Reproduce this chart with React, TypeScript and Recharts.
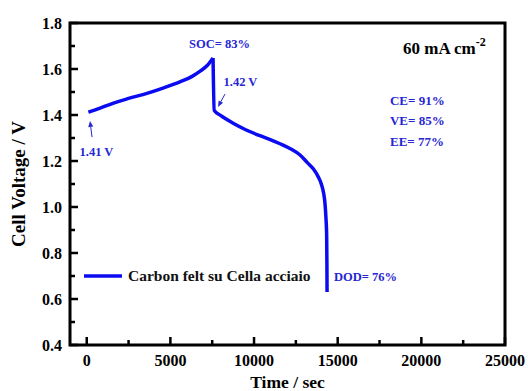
import React from 'react';
import {
  LineChart,
  Line,
  XAxis,
  YAxis,
  ReferenceArea,
  ReferenceDot,
  ReferenceLine,
  Legend,
} from 'recharts';

// charge branch (time in s, voltage in V)
const chargeTime = [100, 800, 1600, 2500, 3600, 4600, 5600, 6300, 6800, 7200, 7550];
const chargeVolt = [1.412, 1.43, 1.452, 1.472, 1.494, 1.518, 1.545, 1.568, 1.592, 1.615, 1.648];

// discharge branch, starts at the top of the charge
const dischargeTime = [
  7550, 7620, 8000, 8750, 9500, 10350, 11000, 11550, 12200, 12750, 13200, 13540,
  13830, 14040, 14160, 14240, 14300, 14340, 14355, 14365,
];
const dischargeVolt = [
  1.648, 1.42, 1.398, 1.364, 1.336, 1.31, 1.292, 1.275, 1.252, 1.226, 1.192, 1.166,
  1.132, 1.096, 1.06, 1.016, 0.95, 0.88, 0.76, 0.63,
];

const xTicks = [0, 2500, 5000, 7500, 10000, 12500, 15000, 17500, 20000, 22500, 25000];
const yTicks = [0.4, 0.5, 0.6, 0.7, 0.8, 0.9, 1.0, 1.1, 1.2, 1.3, 1.4, 1.5, 1.6, 1.7, 1.8];

// text notes placed in data coordinates
const notes = [
  { text: 'SOC= 83%', t: 7936, v: 1.712, anchor: 'middle', size: 12.5 },
  { text: '1.42 V', t: 9191, v: 1.543, anchor: 'middle', size: 12.5 },
  { text: '1.41 V', t: 584, v: 1.239, anchor: 'middle', size: 12.5 },
  { text: 'CE= 91%', t: 18126, v: 1.465, anchor: 'start', size: 13 },
  { text: 'VE= 85%', t: 18126, v: 1.378, anchor: 'start', size: 13 },
  { text: 'EE= 77%', t: 18126, v: 1.283, anchor: 'start', size: 13 },
  { text: 'DOD= 76%', t: 14779, v: 0.696, anchor: 'start', size: 12.5 },
];

const arrows = [
  { fromT: 8264, fromV: 1.491, toT: 7846, toV: 1.435 },
  { fromT: 315, fromV: 1.304, toT: 195, toV: 1.374 },
];

const data = [
  ...chargeTime.map((t, i) => ({ t, charge: chargeVolt[i] })),
  ...dischargeTime.map((t, i) => ({ t, discharge: dischargeVolt[i] })),
];

const BLUE = '#0b0bf2';
const NOTE = '#2626d4';
const FONT = '"Liberation Serif", "Times New Roman", serif';
const SERIES_NAME = 'Carbon felt su Cella acciaio';

const YTick = (props: any) => {
  const { x, y, payload } = props;
  const v = payload.value;
  const major = Math.round(v * 10) % 2 === 0;
  return (
    <g>
      <line x1={x} y1={y} x2={x + (major ? 8 : 5)} y2={y} stroke="#000" strokeWidth={2.5} />
      {major && (
        <text x={x - 8} y={y} dy="0.35em" textAnchor="end" fontFamily={FONT} fontWeight="bold" fontSize={16} fill="#000">
          {v.toFixed(1)}
        </text>
      )}
    </g>
  );
};

const XTick = (props: any) => {
  const { x, y, payload } = props;
  const v = payload.value;
  const major = v % 5000 === 0;
  return (
    <g>
      <line x1={x} y1={y} x2={x} y2={y - (major ? 8 : 5)} stroke="#000" strokeWidth={2.5} />
      {major && (
        <text x={x} y={y + 21} textAnchor="middle" fontFamily={FONT} fontWeight="bold" fontSize={16} fill="#000">
          {v}
        </text>
      )}
    </g>
  );
};

const ArrowShape = (props: any) => {
  const { x1, y1, x2, y2 } = props;
  const dx = x2 - x1;
  const dy = y2 - y1;
  const len = Math.sqrt(dx * dx + dy * dy) || 1;
  const ux = dx / len;
  const uy = dy / len;
  const bx = x2 - ux * 6;
  const by = y2 - uy * 6;
  return (
    <g>
      <line x1={x1} y1={y1} x2={bx} y2={by} stroke={NOTE} strokeWidth={1} />
      <polygon
        points={`${x2},${y2} ${bx - uy * 2.5},${by + ux * 2.5} ${bx + uy * 2.5},${by - ux * 2.5}`}
        fill={NOTE}
      />
    </g>
  );
};

const LegendBox = () => (
  <div style={{ display: 'flex', alignItems: 'center', fontFamily: FONT, fontWeight: 'bold', fontSize: 15.5, color: '#111' }}>
    <svg width={38} height={6} style={{ display: 'block' }}>
      <line x1={0} y1={3} x2={38} y2={3} stroke={BLUE} strokeWidth={3.5} />
    </svg>
    <span style={{ marginLeft: 6, whiteSpace: 'nowrap' }}>{SERIES_NAME}</span>
  </div>
);

export default function App() {
  return (
    <div style={{ position: 'absolute', left: 0, top: 0, background: '#fff' }}>
      <LineChart width={528} height={391} data={data} margin={{ top: 23, right: 23, left: 0, bottom: 0 }}>
        <XAxis
          dataKey="t"
          type="number"
          domain={[-1000, 25000]}
          ticks={xTicks}
          interval={0}
          allowDataOverflow
          axisLine={false}
          tickLine={false}
          tickSize={0}
          tickMargin={0}
          tick={<XTick />}
          height={46}
          label={{ value: 'Time / sec', position: 'insideBottom', offset: 3, fontFamily: FONT, fontWeight: 'bold', fontSize: 17.5, fill: '#000' }}
        />
        <YAxis
          type="number"
          domain={[0.4, 1.8]}
          ticks={yTicks}
          interval={0}
          allowDataOverflow
          axisLine={false}
          tickLine={false}
          tickSize={0}
          tickMargin={0}
          tick={<YTick />}
          width={70}
          label={{ value: 'Cell Voltage / V', angle: -90, position: 'insideLeft', offset: 18, fontFamily: FONT, fontWeight: 'bold', fontSize: 19, fill: '#000', style: { textAnchor: 'middle' } }}
        />
        <ReferenceArea x1={-1000} x2={25000} y1={0.4} y2={1.8} fill="none" stroke="#000" strokeWidth={3} />
        <Line
          type="monotone"
          dataKey="charge"
          name={SERIES_NAME}
          stroke={BLUE}
          strokeWidth={3.5}
          dot={false}
          isAnimationActive={false}
        />
        <Line
          type="monotone"
          dataKey="discharge"
          name={SERIES_NAME}
          legendType="none"
          stroke={BLUE}
          strokeWidth={3.5}
          dot={false}
          isAnimationActive={false}
        />
        {arrows.map((a, i) => (
          <ReferenceLine
            key={'a' + i}
            segment={[{ x: a.fromT, y: a.fromV }, { x: a.toT, y: a.toV }]}
            shape={<ArrowShape />}
          />
        ))}
        {notes.map((n, i) => (
          <ReferenceDot
            key={'n' + i}
            x={n.t}
            y={n.v}
            r={1}
            fill="none"
            stroke="none"
            label={{
              content: (p: any) => (
                <text
                  x={p.viewBox.x + p.viewBox.width / 2}
                  y={p.viewBox.y + p.viewBox.height / 2}
                  dy="0.35em"
                  textAnchor={n.anchor}
                  fontFamily={FONT}
                  fontWeight="bold"
                  fontSize={n.size}
                  fill={NOTE}
                >
                  {n.text}
                </text>
              ),
            }}
          />
        ))}
        <ReferenceDot
          x={18903}
          y={1.691}
          r={1}
          fill="none"
          stroke="none"
          label={{
            content: (p: any) => (
              <text
                x={p.viewBox.x + p.viewBox.width / 2}
                y={p.viewBox.y + p.viewBox.height / 2}
                dy="0.35em"
                textAnchor="start"
                fontFamily={FONT}
                fontWeight="bold"
                fontSize={17}
                fill="#000"
              >
                60 mA cm
                <tspan dy={-8} fontSize={12}>-2</tspan>
              </text>
            ),
          }}
        />
        <Legend
          layout="horizontal"
          verticalAlign="middle"
          align="center"
          content={<LegendBox />}
          wrapperStyle={{ left: 84, top: 267, width: 'auto' }}
        />
      </LineChart>
    </div>
  );
}
